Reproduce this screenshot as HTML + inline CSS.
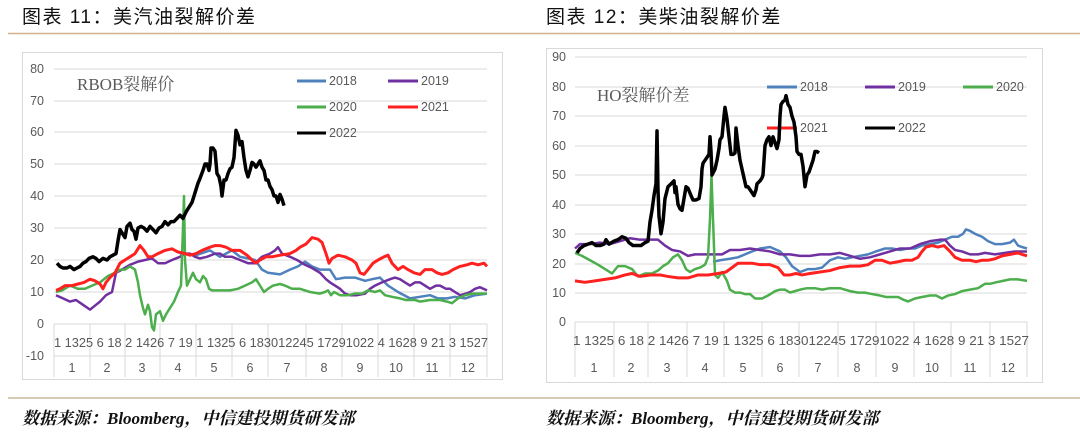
<!DOCTYPE html>
<html><head><meta charset="utf-8"><style>
body{margin:0;background:#fff;width:1080px;height:435px;overflow:hidden}
svg{display:block}
.t{font-family:"Liberation Sans","Noto Sans CJK SC",sans-serif;fill:#595959;font-size:12.5px}
.h{font-family:"Liberation Sans","Noto Sans CJK SC",sans-serif;font-size:19px;fill:#111;letter-spacing:1.5px}
.s{font-family:"Liberation Serif","Noto Serif CJK SC",serif;font-size:17px;font-style:italic;font-weight:bold;fill:#111}
.g{stroke:#d9d9d9;stroke-width:1}
.l{fill:none;stroke-linejoin:round;vector-effect:non-scaling-stroke}
</style></head><body>
<svg width="1080" height="435" viewBox="0 0 1080 435">
<text class="h" x="22" y="23">图表 11：美汽油裂解价差</text>
<text class="h" x="546" y="23">图表 12：美柴油裂解价差</text>
<line x1="8" y1="33.5" x2="1080" y2="33.5" stroke="#d4b08c" stroke-width="1.5"/>
<line x1="8" y1="398" x2="1080" y2="398" stroke="#c9b99a" stroke-width="1.5"/>
<text class="s" x="22" y="424">数据来源：Bloomberg，中信建投期货研发部</text>
<text class="s" x="546" y="424">数据来源：Bloomberg，中信建投期货研发部</text>

<!-- LEFT -->
<rect x="22.5" y="52.5" width="480" height="327" fill="#fff" stroke="#d9d9d9"/>
<g class="g">
<line x1="54" y1="69" x2="487" y2="69"/><line x1="54" y1="101" x2="487" y2="101"/><line x1="54" y1="132" x2="487" y2="132"/><line x1="54" y1="164" x2="487" y2="164"/><line x1="54" y1="196" x2="487" y2="196"/><line x1="54" y1="228" x2="487" y2="228"/><line x1="54" y1="260" x2="487" y2="260"/><line x1="54" y1="292" x2="487" y2="292"/><line x1="54" y1="324" x2="487" y2="324"/><line x1="54" y1="356" x2="487" y2="356"/>
<line x1="54" y1="324" x2="54" y2="377"/><line x1="90" y1="324" x2="90" y2="377"/><line x1="125" y1="324" x2="125" y2="377"/><line x1="160" y1="324" x2="160" y2="377"/><line x1="196" y1="324" x2="196" y2="377"/><line x1="232" y1="324" x2="232" y2="377"/><line x1="268" y1="324" x2="268" y2="377"/><line x1="306" y1="324" x2="306" y2="377"/><line x1="342" y1="324" x2="342" y2="377"/><line x1="378" y1="324" x2="378" y2="377"/><line x1="414" y1="324" x2="414" y2="377"/><line x1="450" y1="324" x2="450" y2="377"/><line x1="487" y1="324" x2="487" y2="377"/>
</g>
<g class="t" text-anchor="end"><text x="44" y="73">80</text><text x="44" y="105">70</text><text x="44" y="136">60</text><text x="44" y="168">50</text><text x="44" y="200">40</text><text x="44" y="232">30</text><text x="44" y="264">20</text><text x="44" y="296">10</text><text x="44" y="328">0</text><text x="44" y="360">-10</text></g>
<text class="t" x="54" y="347" textLength="434" lengthAdjust="spacingAndGlyphs">1 1325 6 18 2 1426 7 19 1 1325 6 183012245 17291022 4 1628 9 21 3 1527</text>
<g class="t" text-anchor="middle"><text x="72" y="372">1</text><text x="107" y="372">2</text><text x="142" y="372">3</text><text x="178" y="372">4</text><text x="214" y="372">5</text><text x="250" y="372">6</text><text x="287" y="372">7</text><text x="324" y="372">8</text><text x="360" y="372">9</text><text x="396" y="372">10</text><text x="432" y="372">11</text><text x="468" y="372">12</text></g>
<text x="77" y="90" style="font-family:'Liberation Serif','Noto Serif CJK SC',serif;font-size:17px;fill:#595959">RBOB裂解价</text>
<g stroke-width="3"><line x1="297" y1="81" x2="326" y2="81" stroke="#4f81bd"/><line x1="388" y1="81" x2="418" y2="81" stroke="#7030a0"/><line x1="297" y1="107" x2="326" y2="107" stroke="#4cae4c"/><line x1="388" y1="107" x2="418" y2="107" stroke="#ff2020"/><line x1="297" y1="133" x2="326" y2="133" stroke="#000"/></g>
<g class="t"><text x="329" y="85">2018</text><text x="421" y="85">2019</text><text x="329" y="111">2020</text><text x="421" y="111">2021</text><text x="329" y="137">2022</text></g>
<g transform="translate(0,324) scale(1,-3.2)">
<polyline class="l" stroke="#4f81bd" stroke-width="2.5" points="180,22 196,21.5 210,23 220,21 232,23 240,21 248,20.5 255,20 262,17 268,16 280,15.5 290,17 298,18 305,19.5 312,18 320,17 330,17 336,14 345,14.5 355,14.5 365,13.5 372,14 380,14.5 388,12 398,10 410,8 420,8.5 430,9 438,8 447,8 455,8.5 465,8 475,9 487,9.5"/>
<polyline class="l" stroke="#7030a0" stroke-width="2.5" points="56,9 63,8 70,7 76,7.5 83,6 90,4.5 96,6 100,7 106,9 112,10 116,16 122,17 130,18.5 138,19.5 145,20 152,20.5 158,19 165,19 172,20 180,21 185,22 190,22 195,21 200,20.5 207,21 215,22 220,22 225,21 232,21 240,20 248,19 255,19 262,21 270,22 275,23 278,24 282,22 290,21 297,20 305,18.5 312,17.5 320,16 326,14 330,13 335,12 340,11 345,9.5 350,9 357,9 365,9.5 370,11 375,12 382,13 390,14 395,14.5 400,14 405,13 410,12 415,13 420,13 425,12 430,11 436,12 440,12 446,11 450,11 455,10 460,9 466,9.5 470,10 475,11 480,11.5 487,10.5"/>
<polyline class="l" stroke="#4cae4c" stroke-width="2.5" points="56,10 62,10.5 70,12 78,11 85,11 92,12 100,13 108,15 115,16 120,17 125,17 130,18 135,17 138,13 140,9 143,5 145,3 148,6 150,4 152,-1 154,-2 156,3 160,4 163,1 166,3 170,5 174,7 178,10 181,12 183,30 184,40 185,20 187,12 190,14 193,16 196,14 200,13 203,15 206,14 209,11 212,10.5 220,10.5 230,10.5 238,11 245,12 252,13 256,14 260,12 264,10 268,11 273,12 280,12.5 285,12 292,11 300,11 310,10 320,9.5 325,10 328,10.5 331,9 334,10 340,9 348,9 355,9.5 362,9.5 368,10.5 375,10 380,10.5 385,9 392,8.5 400,8 406,7.5 415,7.5 420,7 430,7.5 440,7.5 447,7 452,6.5 458,8 465,9 472,9.5 480,9.5 487,9.5"/>
<polyline class="l" stroke="#ff2020" stroke-width="3" points="56,10.5 60,11 65,12 72,12 78,12.5 84,13 90,14 95,13.5 100,12.5 103,11 106,13 110,14.5 115,16 120,19 125,20 130,21 135,22 140,24.5 144,23 148,21 152,21 158,22 165,23 172,23.5 178,22.5 185,22 190,21.5 196,22 202,23 210,24 215,24.5 220,24.5 226,24 232,23 240,23 247,21.5 252,20 256,19 260,20 266,21 272,21 280,21.5 290,22 296,23 300,24 306,25 312,27 318,26.5 322,25.5 326,22 329,19 332,20.5 338,21.5 345,21 352,20 356,19 360,16 364,15.5 368,17 373,19 378,20 384,21 388,21.5 392,19 398,17 403,18 408,17 414,16 420,15.5 425,17 432,17 437,16 442,15.5 448,16 453,17 460,18 467,18.5 472,19 478,18.5 484,19 487,18"/>
<polyline class="l" stroke="#000" stroke-width="3.5" points="57,19 60,18 63,17.5 67,17.5 70,18 74,17 77,17.5 80,18 83,19 86,19.5 89,20.5 93,21 96,20.5 99,19.5 103,20.5 107,20 110,21 113,21.5 116,22 118,26 120,29.5 123,28 125,27 127,30.5 130,31.5 132,29.5 134,29 136,26.5 138,30 141,30.5 144,30 147,29 150,30.5 153,29.5 156,28.5 159,30 162,30.5 165,32 168,31 171,32 174,32 177,33 180,34 183,33 186,35 189,36.5 192,38 195,41 198,44 200,45.5 203,48 205,50 207,50 209,48 210,50 211,55 213,55 215,54 217,47 219,46 221,43 222,40 224,45 226,45 228,47 230,48.5 232,49 234,52 236,60.5 238,59 240,56 242,57 244,52 246,48 248,46 250,48 252,50.5 254,50 256,49 258,50 260,51 262,49 264,48 266,45 268,45 270,43 272,42 274,40 276,40 278,38 280,40.5 282,39 284,37"/>
</g>

<!-- RIGHT -->
<rect x="546.5" y="48.5" width="496" height="334" fill="#fff" stroke="#d9d9d9"/>
<g class="g">
<line x1="575" y1="57" x2="1027" y2="57"/><line x1="575" y1="87" x2="1027" y2="87"/><line x1="575" y1="116" x2="1027" y2="116"/><line x1="575" y1="146" x2="1027" y2="146"/><line x1="575" y1="175" x2="1027" y2="175"/><line x1="575" y1="205" x2="1027" y2="205"/><line x1="575" y1="234" x2="1027" y2="234"/><line x1="575" y1="264" x2="1027" y2="264"/><line x1="575" y1="293" x2="1027" y2="293"/><line x1="575" y1="322" x2="1027" y2="322"/>
<line x1="575" y1="322" x2="575" y2="377"/><line x1="614" y1="322" x2="614" y2="377"/><line x1="648" y1="322" x2="648" y2="377"/><line x1="687" y1="322" x2="687" y2="377"/><line x1="724" y1="322" x2="724" y2="377"/><line x1="762" y1="322" x2="762" y2="377"/><line x1="799" y1="322" x2="799" y2="377"/><line x1="838" y1="322" x2="838" y2="377"/><line x1="876" y1="322" x2="876" y2="377"/><line x1="914" y1="322" x2="914" y2="377"/><line x1="951" y1="322" x2="951" y2="377"/><line x1="990" y1="322" x2="990" y2="377"/><line x1="1027" y1="322" x2="1027" y2="377"/>
</g>
<g class="t" text-anchor="end"><text x="566" y="61">90</text><text x="566" y="91">80</text><text x="566" y="120">70</text><text x="566" y="150">60</text><text x="566" y="179">50</text><text x="566" y="209">40</text><text x="566" y="238">30</text><text x="566" y="268">20</text><text x="566" y="297">10</text><text x="566" y="326">0</text></g>
<text class="t" x="573" y="345" textLength="456" lengthAdjust="spacingAndGlyphs">1 1325 6 18 2 1426 7 19 1 1325 6 183012245 17291022 4 1628 9 21 3 1527</text>
<g class="t" text-anchor="middle"><text x="594" y="372">1</text><text x="631" y="372">2</text><text x="667" y="372">3</text><text x="705" y="372">4</text><text x="743" y="372">5</text><text x="780" y="372">6</text><text x="818" y="372">7</text><text x="857" y="372">8</text><text x="895" y="372">9</text><text x="932" y="372">10</text><text x="970" y="372">11</text><text x="1008" y="372">12</text></g>
<text x="597" y="101" style="font-family:'Liberation Serif','Noto Serif CJK SC',serif;font-size:17px;fill:#595959">HO裂解价差</text>
<g stroke-width="3"><line x1="767" y1="87" x2="797" y2="87" stroke="#4f81bd"/><line x1="865" y1="87" x2="895" y2="87" stroke="#7030a0"/><line x1="963" y1="87" x2="993" y2="87" stroke="#4cae4c"/><line x1="767" y1="128" x2="797" y2="128" stroke="#ff2020"/><line x1="865" y1="128" x2="895" y2="128" stroke="#000"/></g>
<g class="t"><text x="800" y="91">2018</text><text x="898" y="91">2019</text><text x="996" y="91">2020</text><text x="800" y="132">2021</text><text x="898" y="132">2022</text></g>
<g transform="translate(0,322) scale(1,-2.94)">
<polyline class="l" stroke="#4f81bd" stroke-width="2.5" points="713,20.5 720,21 730,21.5 738,22 745,23 752,24 760,25 770,25.5 780,24 786,22 792,19 800,17 808,18 815,18 822,18.5 830,21 838,22 845,21.5 852,22 860,22.5 868,23 876,24 885,25 892,25 900,24.5 908,25 915,25 922,26 930,26.5 938,27 945,28 952,29 958,29 963,30 966,31.5 970,31 975,30 982,29 988,27.5 995,26.5 1002,26.5 1010,27 1014,28 1018,26 1022,25.5 1027,25"/>
<polyline class="l" stroke="#7030a0" stroke-width="2.5" points="575,25 580,26.5 590,26.5 600,27 610,26.5 620,27.5 630,28.5 640,28 650,28 658,28 665,26 672,24.5 680,24 688,22.5 695,23 705,23 715,23 722,23 730,24.5 740,24.5 750,25 760,24.5 770,24 780,23 790,23 800,22.5 810,22.5 820,23 830,23 840,23.5 850,22.5 860,21.5 870,22 880,23 890,24 900,25 910,25 920,26.5 930,27.5 940,28 945,28 950,26 955,24.5 962,24 970,23 978,23 985,23.5 995,23 1005,23.5 1015,24 1027,24"/>
<polyline class="l" stroke="#4cae4c" stroke-width="2.5" points="575,23.5 582,22.5 590,21 598,19.5 605,18 612,16.5 618,19 625,19 632,18 638,15.5 645,16.5 652,16.5 658,17.5 663,19 668,20 673,22 678,23 682,21 686,18 690,17 695,18 700,18.5 705,19.5 708,22 710,35 711.5,50 713,35 715,16 718,15 722,17 727,14 730,11 735,10 740,10 745,9.5 750,9.5 755,8 762,8 768,9 775,10.5 780,11 785,11 790,10 795,10.5 800,11 807,11.5 815,11.5 822,11 830,11.5 840,11.5 850,10.5 858,10 865,10 872,9.5 880,9 886,8.5 892,8.5 898,8.5 904,7.5 908,7 915,8 922,8.5 930,9 936,9 942,8 948,9 955,9.5 962,10.5 970,11 978,11.5 985,13 990,13 996,13.5 1003,14 1010,14.5 1018,14.5 1027,14"/>
<polyline class="l" stroke="#ff2020" stroke-width="3" points="575,14 585,13.5 595,14 605,14.5 615,15 625,16 632,16.5 640,15.5 650,16 660,16 668,15.5 678,15 688,15 698,16 708,16 718,16.5 726,17 732,18.5 738,20 745,20 752,20 760,19.5 770,19.5 778,18.5 784,16 790,16 796,16.5 802,16 810,16.5 820,17 830,17.5 840,18.5 850,19 860,19 868,19.5 875,21 882,21 890,20 898,20.5 905,21 912,21 918,22 922,24 926,25.5 932,26 938,25.5 944,26 950,24 955,22 962,21 970,21 976,20.5 982,21 988,21 995,21.5 1002,22.5 1010,23 1018,23.5 1022,23 1027,22.5"/>
<polyline class="l" stroke="#000" stroke-width="3.5" points="577,23.5 580,25 584,26 588,26.5 592,27 596,26 600,26 604,26.5 606,28 609,26.5 614,27.5 618,28 622,29 626,28.5 629,27 633,26 637,26 641,26 645,27 648,27.5 650,34 652,38 654,43 655,45 656,47 657,65 658,45 659,36 661,30 663,34 665,42 668,46 671,47 674,48 675,44 676,46 678,40 680,38.5 682,38 684,42 686,46 688,45.5 691,43 693,41.5 696,41.5 699,42 701,46 702,52 703,54 705,55 707,56 709,57 710,63 711,58 712,50 715,52 717,55 719,59 720,62 722,63 724,70 725,73 727,69 729,63 731,57 733,57 735,57.5 736,66 738,60 740,55 742,52 744,49 746,46 748,46 750,45 752,44 754,43 756,45 757,47 760,48 762,49 763,50 765,60 767,62 769,63 771,60 773,63 775,61 777,59 779,62 780,70 781,74 783,75 785,75.5 786,77 788,74 790,73 792,70 794,68 796,63 797,58 799,57 801,57 803,53 805,46 807,50 809,51 811,53 813,55 815,58 817,58 819,57.5"/>
</g>
</svg>
</body></html>
